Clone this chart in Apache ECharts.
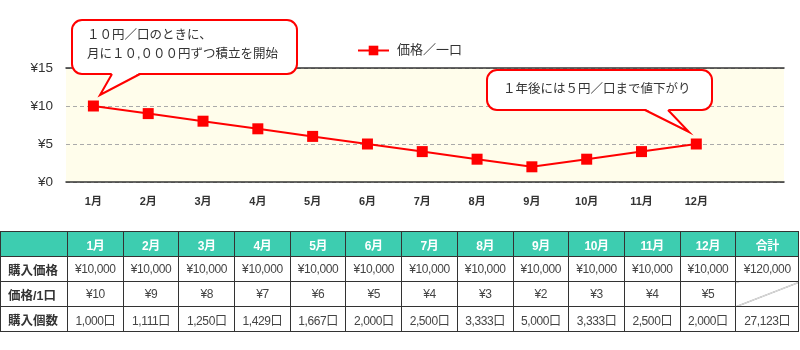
<!DOCTYPE html>
<html>
<head>
<meta charset="utf-8">
<script src="https://cdn.jsdelivr.net/npm/echarts@6/dist/echarts.min.js"></script>
<style>
html,body{margin:0;padding:0;background:#fff;}
#wrap{position:relative;width:800px;height:350px;}
#chart{position:absolute;left:0;top:0;width:800px;height:350px;}
#tbl{position:absolute;left:0;top:231px;border-collapse:collapse;table-layout:fixed;width:799px;
  font-family:"Liberation Sans","Noto Sans CJK JP",sans-serif;z-index:2;}
#tbl td{border:1px solid #333;height:24px;padding:0;text-align:center;font-size:12px;color:#444;letter-spacing:-0.4px;white-space:nowrap;overflow:hidden;}
#tbl tr.head td{background:#3DCDB0;color:#fff;font-weight:bold;font-size:12px;}
#tbl td.rowh{text-align:left;padding-left:7px;font-weight:bold;font-size:12.5px;letter-spacing:0;color:#333;}
#tbl td.diag{background:linear-gradient(to bottom right,transparent calc(50% - 0.6px),#777 50%,transparent calc(50% + 0.6px));}
</style>
</head>
<body>
<div id="wrap">
<div id="chart"></div>
<table id="tbl"></table>
</div>
<script>
// ---- data ----
const months = ['1月','2月','3月','4月','5月','6月','7月','8月','9月','10月','11月','12月'];
const prices = [10, 9, 8, 7, 6, 5, 4, 3, 2, 3, 4, 5];
const purchaseAmounts = [10000,10000,10000,10000,10000,10000,10000,10000,10000,10000,10000,10000];
const units = [1000,1111,1250,1429,1667,2000,2500,3333,5000,3333,2500,2000];
const yTicks = [0, 5, 10, 15];
const seriesName = '価格／一口';
const rowLabels = ['購入価格','価格/1口','購入個数'];
const totalLabel = '合計';
const note1 = ['１０円／口のときに、','月に１０,０００円ずつ積立を開始'];
const note2 = '１年後には５円／口まで値下がり';

const FONT = '"Liberation Sans","Noto Sans CJK JP",sans-serif';
const fmt = n => n.toLocaleString('en-US');

function bubble(x, y, w, h, base, tip) {
  const RED = '#FF0000';
  return [
    {type:'rect', z:100, shape:{x:x, y:y, width:w, height:h, r:10}, style:{fill:'#fff', stroke:RED, lineWidth:2}},
    {type:'polygon', z:101, shape:{points:[[base[0], y+h-1.2],[base[1], y+h-1.2],tip]}, style:{fill:'#fff'}},
    {type:'polyline', z:102, shape:{points:[[base[0], y+h],tip,[base[1], y+h]]}, style:{stroke:RED, lineWidth:2, fill:null}}
  ];
}

// ---- chart ----
const chart = echarts.init(document.getElementById('chart'), null, {renderer:'canvas'});
const monthIdx = months.map((m,i)=>i+1);
chart.setOption({
  animation:false,
  textStyle:{fontFamily:FONT},
  legend:{
    left:352, top:39, itemWidth:31, itemHeight:12,
    data:[seriesName],
    textStyle:{fontSize:13, color:'#333', fontFamily:FONT, padding:[0,0,0,3]}
  },
  grid:{left:66, right:16, top:68, bottom:168, show:true, backgroundColor:'#FFFDEB', borderWidth:0},
  xAxis:[{
    type:'value', min:0.5, max:13.6,
    axisLine:{show:true, onZero:false, lineStyle:{color:'#333', width:1.5}},
    axisTick:{show:false},
    splitLine:{show:false},
    axisLabel:{customValues:monthIdx, formatter:v=>months[Math.round(v)-1], fontSize:11, fontWeight:'bold', color:'#333', margin:14}
  },{
    type:'value', position:'top', min:0.5, max:13.6,
    axisLine:{show:true, onZero:false, lineStyle:{color:'#333', width:1.5}},
    axisTick:{show:false}, axisLabel:{show:false}, splitLine:{show:false}
  }],
  yAxis:{
    type:'value', min:yTicks[0], max:yTicks[yTicks.length-1], interval:5,
    axisLine:{show:false}, axisTick:{show:false},
    splitLine:{show:true, lineStyle:{color:'#aaa', type:[4,3], width:1}},
    axisLabel:{formatter:'¥{value}', fontSize:13.5, color:'#333', margin:13}
  },
  series:[{
    name:seriesName, type:'line',
    data:prices.map((v,i)=>[monthIdx[i], v]),
    symbol:'rect', symbolSize:11,
    lineStyle:{color:'#FF0000', width:2},
    itemStyle:{color:'#FF0000'},
    z:5
  }],
  graphic:[].concat(
    bubble(72, 20, 225, 54, [112, 140], [100, 95]),
    [{type:'text', z:103, style:{text:note1[0], x:87, y:36, fontSize:12.5, fontFamily:FONT, fill:'#333', verticalAlign:'middle'}},
     {type:'text', z:103, style:{text:note1[1], x:87, y:55, fontSize:12.5, fontFamily:FONT, fill:'#333', verticalAlign:'middle'}}],
    bubble(487, 70, 225, 40, [645, 668], [689, 132]),
    [{type:'text', z:103, style:{text:note2, x:503, y:90, fontSize:12.5, fontFamily:FONT, fill:'#333', verticalAlign:'middle'}}]
  )
});

// ---- table ----
const tbl = document.getElementById('tbl');
let html = '<colgroup><col style="width:67px">' + months.map(()=> '<col style="width:55.7px">').join('') + '<col style="width:63px"></colgroup>';
html += '<tr class="head"><td></td>' + months.map(m=>'<td>'+m+'</td>').join('') + '<td>'+totalLabel+'</td></tr>';
const totalAmount = purchaseAmounts.reduce((a,b)=>a+b,0);
const totalUnits = units.reduce((a,b)=>a+b,0);
html += '<tr><td class="rowh">'+rowLabels[0]+'</td>' + purchaseAmounts.map(v=>'<td>¥'+fmt(v)+'</td>').join('') + '<td>¥'+fmt(totalAmount)+'</td></tr>';
html += '<tr><td class="rowh">'+rowLabels[1]+'</td>' + prices.map(v=>'<td>¥'+v+'</td>').join('') + '<td class="diag"></td></tr>';
html += '<tr><td class="rowh">'+rowLabels[2]+'</td>' + units.map(v=>'<td>'+fmt(v)+'口</td>').join('') + '<td>'+fmt(totalUnits)+'口</td></tr>';
tbl.innerHTML = html;
</script>
</body>
</html>
